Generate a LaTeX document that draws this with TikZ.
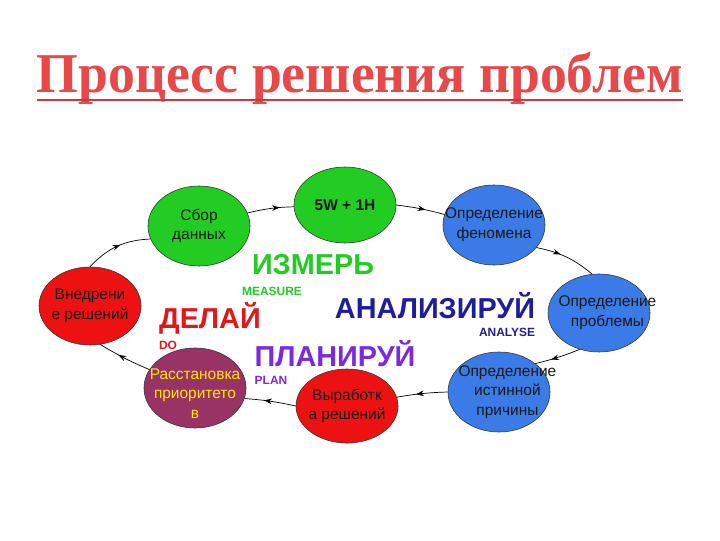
\documentclass[tikz,border=0pt]{standalone}
\usepackage{fontspec}
\setmainfont{Liberation Sans}
\newfontfamily\titlefont{Liberation Serif}
\usetikzlibrary{shapes.geometric,arrows.meta,decorations.markings}
\definecolor{titlered}{HTML}{E84848}
\definecolor{leafgreen}{HTML}{22CC22}
\definecolor{skyblue}{HTML}{3A7BE8}
\definecolor{hotred}{HTML}{EE1111}
\definecolor{plum}{HTML}{993366}
\definecolor{navyblue}{HTML}{1E1E9C}
\definecolor{violet}{HTML}{7A2AE0}
\definecolor{dored}{HTML}{E01818}

\begin{document}
\begin{tikzpicture}[x=0.025cm,y=0.025cm,
	blob/.style={ellipse,draw=black!80,line width=0.4pt,minimum width=2.55cm,minimum height=2cm,inner sep=0pt},
	blobtext/.style={font=\fontsize{11}{14}\selectfont,align=center,text=black!90,inner sep=0pt},
	flow/.style={line width=0.5pt,postaction={decorate},
		decoration={markings,mark=at position #1 with {\arrow{Stealth[length=5.5pt,width=4pt]}}}},
	flow/.default=0.62,
	phase/.style={font=\fontsize{20.5}{24}\selectfont\bfseries,inner sep=0pt},
	subtag/.style={font=\fontsize{8.5}{10}\selectfont\bfseries,inner sep=0pt}]
	
	\useasboundingbox (0,0) rectangle (720,540);
	
	% title
	\node[font=\titlefont\fontsize{40}{44}\selectfont\bfseries,text=titlered,anchor=base,inner sep=0pt,xscale=0.955] (title) at (360,447) {Процесс решения проблем};
	\draw[titlered!85!black,line width=2pt] ([yshift=-5pt]title.base west) -- ([yshift=-5pt]title.base east);
	
	% the cycle
	\node[blob,fill=leafgreen] (sbor) at (199,314) {};
	\node[blob,fill=leafgreen,minimum height=1.9cm] (fivew) at (345,335) {};
	\node[blob,fill=skyblue] (fenomen) at (494,315) {};
	\node[blob,fill=skyblue,minimum height=1.95cm] (problema) at (599,227) {};
	\node[blob,fill=skyblue] (prichina) at (499,148) {};
	\node[blob,fill=hotred,minimum height=1.85cm] (vyrabotka) at (347,134) {};
	\node[blob,fill=plum] (rasst) at (195,152) {};
	\node[blob,fill=hotred,minimum height=1.95cm] (vnedr) at (90,234) {};
	
	\node[blobtext] (sbortxt) at (sbor) {Сбор\\данных};
	\node[blobtext,font=\fontsize{11}{14}\selectfont\bfseries] (fivewtxt) at (fivew) {5W + 1H};
	\node[blobtext] (fenomentxt) at (fenomen) {Определение\\феномена};
	\node[blobtext] (problematxt) at ([xshift=6]problema.center) {Определение\\проблемы};
	\node[blobtext] (prichinatxt) at ([xshift=6]prichina.center) {Определение\\истинной\\причины};
	\node[blobtext] (vyrabotkatxt) at (vyrabotka) {Выработк\\а решений};
	\node[blobtext,text=yellow!90!orange] (rassttxt) at ([yshift=-4]rasst.center) {Расстановка\\приоритето\\в};
	\node[blobtext] (vnedrtxt) at (vnedr) {Внедрени\\е решений};
	
	\draw[flow=0.55] (vnedr.north) to[bend left=22] (sbor.195);
	\draw[flow=0.7] (sbor.15) to[bend left=6] (fivew.182);
	\draw[flow=0.6] (fivew.east) to[bend left=4] (fenomen.168);
	\draw[flow=0.4] (fenomen.-28) to[bend left=14] (problema.100);
	\draw[flow=0.65] (problema.-118) to[bend left=4] (prichina.38);
	\draw[flow] (prichina.west) to[bend right=4] (vyrabotka.10);
	\draw[flow] (vyrabotka.west) to[bend right=4] (rasst.-12);
	\draw[flow] (rasst.158) to[bend left=4] (vnedr.-75);
	
	% phase words
	\node[phase,text=leafgreen] (izmer) at (313,275) {ИЗМЕРЬ};
	\node[subtag,text=leafgreen] (measure) at (272,249) {MEASURE};
	\node[phase,text=navyblue] (analiz) at (435,234) {АНАЛИЗИРУЙ};
	\node[subtag,text=navyblue] (analyse) at (507,208) {ANALYSE};
	\node[phase,text=dored] (delai) at (210,222) {ДЕЛАЙ};
	\node[subtag,text=dored] (do) at (168,195) {DO};
	\node[phase,text=violet] (plan) at (335,186) {ПЛАНИРУЙ};
	\node[subtag,text=violet] (plantag) at (271,160) {PLAN};
	
\end{tikzpicture}
\end{document}
